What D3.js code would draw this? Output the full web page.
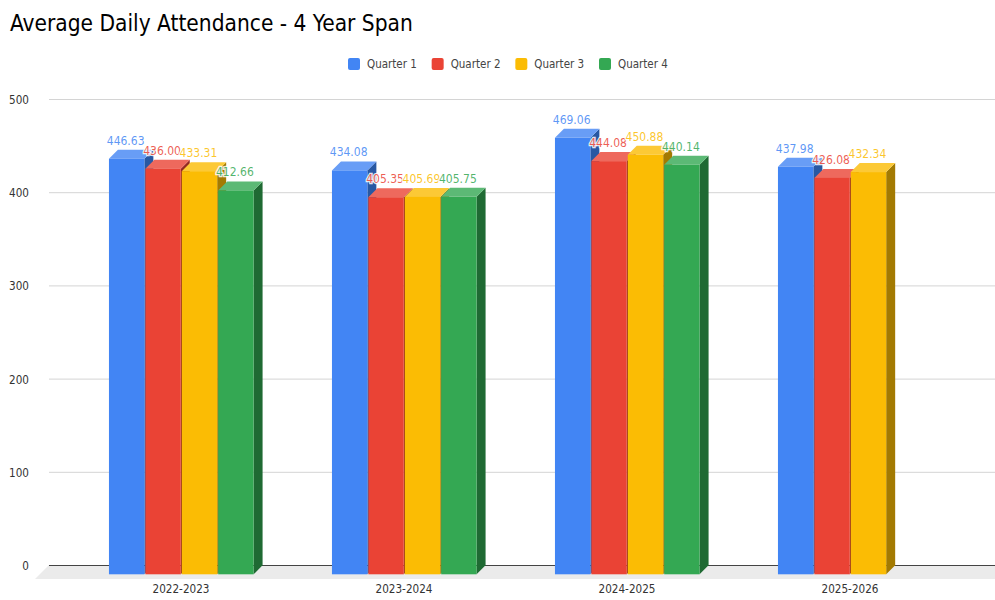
<!DOCTYPE html>
<html>

<head>
    <meta charset="utf-8">
    <style>
        html, body { margin: 0; padding: 0; background: #fff; }
        svg { display: block; }
        text { font-family: "DejaVu Sans Condensed", "DejaVu Sans", sans-serif; font-stretch: condensed; }
    </style>
</head>

<body>
    <script src="https://cdn.jsdelivr.net/npm/d3@7"></script>
    <script>
        // values
        var years = ["2022-2023", "2023-2024", "2024-2025", "2025-2026"];
        var quarters = ["Quarter 1", "Quarter 2", "Quarter 3", "Quarter 4"];
        var q1 = [446.63, 434.08, 469.06, 437.98];
        var q2 = [436.00, 405.35, 444.08, 426.08];
        var q3 = [433.31, 405.69, 450.88, 432.34];
        var q4 = [412.66, 405.75, 440.14, null];
        var series = [q1, q2, q3, q4];
        var yTicks = [0, 100, 200, 300, 400, 500];

        var front = ["#4285f4", "#ea4335", "#fbbc04", "#34a853"];
        var tops = ["#689df6", "#ee695d", "#fcc936", "#5cb975"];
        var sides = ["#2858a3", "#952a21", "#a37a02", "#1f6a33"];

        var width = 995, height = 600;
        var depth = 9;      // fake 3d offset
        var condensed = "DejaVu Sans Condensed, DejaVu Sans";

        var svg = d3.select("body").append("svg")
            .attr("width", width)
            .attr("height", height);

        var y = d3.scaleLinear().domain([0, 500]).range([565, 99]);
        var x0 = d3.scaleBand().domain(years).range([69.5, 961.5]);
        var x1 = d3.scaleBand().domain(quarters).range([0, x0.bandwidth() * 0.653]);

        svg.append("text")
            .attr("x", 10)
            .attr("y", 31)
            .attr("font-size", 22.5)
            .attr("fill", "#000")
            .text("Average Daily Attendance - 4 Year Span");

        // legend
        var legend = d3.scalePoint().domain(quarters).range([348, 599]);
        var items = svg.selectAll(".legend").data(quarters).enter().append("g")
            .attr("transform", d => "translate(" + legend(d) + ",58)");
        items.append("rect")
            .attr("width", 12).attr("height", 12).attr("rx", 2)
            .attr("fill", (d, i) => front[i]);
        items.append("text")
            .attr("x", 19).attr("y", 10)
            .attr("font-size", 11.5).attr("fill", "#444")
            .text(d => d);

        // floor
        svg.append("path")
            .attr("fill", "#ebebeb")
            .attr("d", "M49," + y(0) + "L995," + y(0) + "L995," + (y(0) + 14) + "L35," + (y(0) + 14) + "Z");

        // gridlines + y labels
        var yAxis = svg.append("g")
            .attr("transform", "translate(49,0)")
            .call(d3.axisLeft(y).tickValues(yTicks).tickSize(-946).tickPadding(20));
        yAxis.select(".domain").remove();
        yAxis.selectAll("line").attr("stroke", d => d === 0 ? "#444" : "#d4d4d4");
        yAxis.selectAll("text")
            .attr("font-size", 11.6).attr("fill", "#333")
            .attr("font-family", condensed)
            .attr("dy", "0.38em");

        // x labels
        var xAxis = svg.append("g")
            .attr("transform", "translate(0,574)")
            .call(d3.axisBottom(x0).tickSize(0).tickPadding(11));
        xAxis.select(".domain").remove();
        xAxis.selectAll("text")
            .attr("font-size", 11.6).attr("fill", "#333")
            .attr("font-family", condensed);

        // bars, left to right so each front covers the side of the one before
        var cells = [];
        years.forEach(function (yr, i) {
            quarters.forEach(function (q, j) {
                if (series[j][i] != null) cells.push({ yr: yr, q: q, j: j, v: series[j][i] });
            });
        });
        var bw = x1.bandwidth() - 1;
        var groupShift = x0.bandwidth() * 0.1765 + 0.1;
        var barX = d => x0(d.yr) + groupShift + x1(d.q);
        var barY = d => y(d.v) + depth + 1;
        var base = y(0) + depth + 0.3;

        var bars = svg.selectAll(".bar").data(cells).enter().append("g").attr("class", "bar");
        bars.append("path")
            .attr("fill", d => sides[d.j])
            .attr("d", function (d) {
                var r = barX(d) + bw;
                return "M" + r + "," + barY(d) + "l" + depth + "," + (-depth) + "L" + (r + depth) + "," + (base - depth) + "L" + r + "," + base + "Z";
            });
        bars.append("path")
            .attr("fill", d => tops[d.j])
            .attr("d", function (d) {
                return "M" + barX(d) + "," + barY(d) + "l" + depth + "," + (-depth) + "h" + bw + "l" + (-depth) + "," + depth + "Z";
            });
        bars.append("rect")
            .attr("fill", d => front[d.j])
            .attr("x", barX)
            .attr("y", barY)
            .attr("width", bw)
            .attr("height", d => base - barY(d));

        // value labels on top of everything
        svg.selectAll(".val").data(cells).enter().append("text")
            .attr("class", "val")
            .attr("x", d => barX(d) + bw / 2 - 1)
            .attr("y", d => barY(d) - 14)
            .attr("text-anchor", "middle")
            .attr("font-size", 12)
            .attr("fill", d => front[d.j])
            .attr("fill-opacity", 0.85)
            .attr("stroke", "#fff")
            .attr("stroke-width", 2.5)
            .attr("stroke-opacity", 0.85)
            .attr("paint-order", "stroke")
            .text(d => d.v.toFixed(2));
    </script>
</body>

</html>
